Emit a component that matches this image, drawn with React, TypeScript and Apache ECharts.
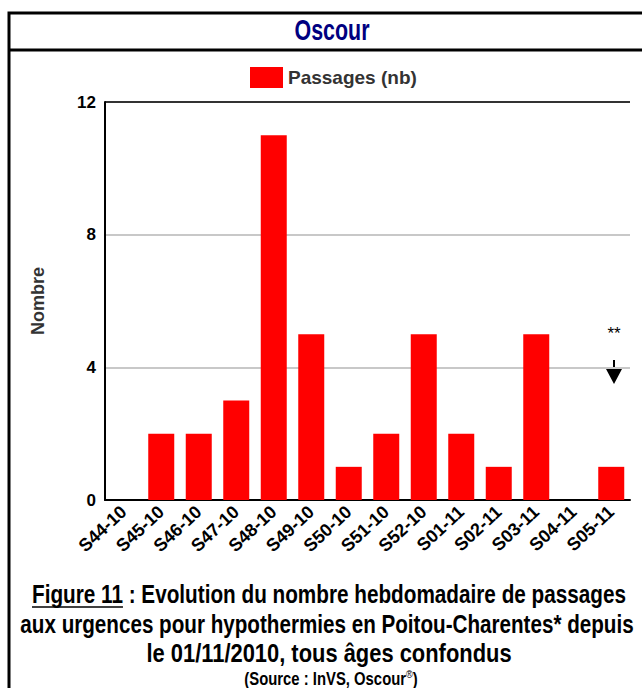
import React, { useEffect, useRef } from "react";
import * as echarts from "echarts";

const categories = ["S44-10", "S45-10", "S46-10", "S47-10", "S48-10", "S49-10", "S50-10", "S51-10", "S52-10", "S01-11", "S02-11", "S03-11", "S04-11", "S05-11"];
const passages = [0, 2, 2, 3, 11, 5, 1, 2, 5, 2, 1, 5, 0, 1];
const yTicks = [0, 4, 8, 12];
const titleText = "Oscour";
const legendName = "Passages (nb)";
const yName = "Nombre";
const captionLine1 = "Figure 11 : Evolution du nombre hebdomadaire de passages";
const captionUnderlined = "Figure 11";
const captionLine2 = "aux urgences pour hypothermies en Poitou-Charentes* depuis";
const captionLine3 = "le 01/11/2010, tous âges confondus";
const sourceMain = "(Source : InVS, Oscour";

const SANS = "'Liberation Sans', Arial, sans-serif";

function measure(text: string, font: string): number {
  const c = document.createElement("canvas").getContext("2d")!;
  c.font = font;
  return c.measureText(text).width;
}

function fitText(text: string, font: string, cx: number, cy: number, width: number, fill: string) {
  const w = measure(text, font);
  return {
    type: "text",
    x: cx,
    y: cy,
    scaleX: width / w,
    style: { text, x: 0, y: 0, fill, font, align: "center", verticalAlign: "middle" },
  };
}

export default function App() {
  const ref = useRef<HTMLDivElement>(null);
  useEffect(() => {
    document.body.style.margin = "0";
    const chart = echarts.init(ref.current!, null, { renderer: "svg" });
    const capFont = `bold 25px ${SANS}`;
    const srcFont = `bold 18px ${SANS}`;
    const srcW = measure(sourceMain, srcFont);
    const srcScale = 170 / (srcW + 10);
    const cap1W = 594;
    const cap1Cx = 329;
    const cap1Scale = cap1W / measure(captionLine1, capFont);
    const ulStart = cap1Cx - cap1W / 2;
    const ulEnd = ulStart + measure(captionUnderlined, capFont) * cap1Scale;
    chart.setOption({
      animation: false,
      backgroundColor: "#fff",
      legend: {
        top: 62,
        left: 245,
        icon: "rect",
        itemWidth: 33,
        itemHeight: 21,
        itemGap: 8,
        textStyle: { fontFamily: SANS, fontWeight: "bold", fontSize: 19, color: "#333" },
        data: [legendName],
      },
      grid: { left: 105, top: 102, right: 12, bottom: 188, containLabel: false },
      xAxis: {
        type: "category",
        data: categories,
        axisLine: { lineStyle: { color: "#000", width: 2 } },
        axisTick: { alignWithLabel: true, length: 5, lineStyle: { color: "#000", width: 2 } },
        axisLabel: {
          rotate: 43,
          interval: 0,
          margin: 9,
          fontFamily: SANS,
          fontWeight: "bold",
          fontSize: 18,
          color: "#000",
        },
      },
      yAxis: {
        type: "value",
        min: 0,
        max: 12,
        interval: 4,
        name: yName,
        nameLocation: "middle",
        nameGap: 58,
        nameRotate: 90,
        nameTextStyle: { fontFamily: SANS, fontWeight: "bold", fontSize: 18, color: "#333" },
        axisLine: { show: true, lineStyle: { color: "#000", width: 2 } },
        axisTick: { show: false },
        axisLabel: {
          fontFamily: SANS,
          fontWeight: "bold",
          fontSize: 17,
          color: "#000",
          margin: 9,
          formatter: (v: number) => (yTicks.includes(v) ? String(v) : ""),
        },
        splitLine: {
          show: true,
          lineStyle: { color: ["#000", "#c8c8c8", "#c8c8c8", "#333"], width: 2 },
        },
      },
      series: [
        {
          name: legendName,
          type: "bar",
          data: passages,
          barWidth: 26,
          itemStyle: { color: "#ff0000" },
        },
      ],
      graphic: [
        { type: "rect", shape: { x: 9, y: 13, width: 660, height: 700 }, style: { fill: "none", stroke: "#000", lineWidth: 3 } },
        { type: "line", shape: { x1: 9, y1: 50, x2: 642, y2: 50 }, style: { stroke: "#000", lineWidth: 3 } },
        fitText(titleText, `bold 30px ${SANS}`, 332, 30, 75, "#000080"),
        {
          type: "text",
          x: 614,
          y: 333,
          style: { text: "**", fill: "#000", font: `17px ${SANS}`, align: "center", verticalAlign: "middle" },
        },
        { type: "line", shape: { x1: 614, y1: 360, x2: 614, y2: 372 }, style: { stroke: "#000", lineWidth: 2 } },
        { type: "polygon", shape: { points: [[606, 369], [622, 369], [614, 384]] }, style: { fill: "#000" } },
        fitText(captionLine1, capFont, cap1Cx, 594, cap1W, "#000"),
        { type: "line", shape: { x1: ulStart, y1: 607, x2: ulEnd, y2: 607 }, style: { stroke: "#000", lineWidth: 1.5 } },
        fitText(captionLine2, capFont, 327, 624, 614, "#000"),
        fitText(captionLine3, capFont, 329, 653, 365, "#000"),
        {
          type: "text",
          x: 331,
          y: 678,
          scaleX: srcScale,
          style: {
            x: 0,
            y: 0,
            text: `{a|${sourceMain}}{r|®}{a|)}`,
            align: "center",
            verticalAlign: "middle",
            rich: {
              a: { font: srcFont, fill: "#000", verticalAlign: "middle" },
              r: { font: `11px ${SANS}`, fill: "#000", verticalAlign: "top", padding: [0, 0, 8, 0] },
            },
          },
        },
      ],
    });
    return () => chart.dispose();
  }, []);
  return <div ref={ref} style={{ width: 642, height: 688 }} />;
}
